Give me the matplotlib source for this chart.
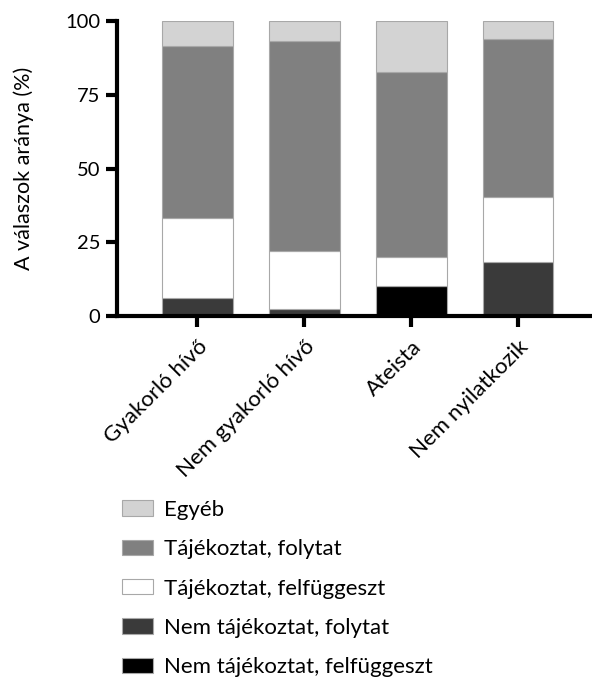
import numpy as np
import matplotlib.pyplot as plt
from matplotlib.patches import Patch

plt.rcParams['font.family'] = ['Lato', 'DejaVu Sans']

# Adatok (%)
csoportok = ['Gyakorló hívő', 'Nem gyakorló hívő', 'Ateista', 'Nem nyilatkozik']
nem_taj_felf = [0.0, 0.0, 10.2, 0.0]
nem_taj_foly = [6.0, 2.5, 0.0, 18.4]
taj_felf = [27.1, 19.5, 9.9, 21.8]
taj_foly = [58.3, 71.1, 62.6, 53.6]
egyeb = [8.6, 6.9, 17.3, 6.2]

sorozatok = [
    ('Nem tájékoztat, felfüggeszt', nem_taj_felf, '#000000'),
    ('Nem tájékoztat, folytat', nem_taj_foly, '#3a3a3a'),
    ('Tájékoztat, felfüggeszt', taj_felf, '#ffffff'),
    ('Tájékoztat, folytat', taj_foly, '#808080'),
    ('Egyéb', egyeb, '#d3d3d3'),
]

fig = plt.figure(figsize=(5.92, 6.79), dpi=100)
ax = fig.add_axes([117 / 592, 1 - 316 / 679, 1 - 117 / 592, 295 / 679])

x = np.arange(len(csoportok))
alap = np.zeros(len(csoportok))
for nev, ertek, szin in sorozatok:
    ax.bar(x, ertek, bottom=alap, width=0.66, color=szin,
           edgecolor='#a8a8a8', linewidth=0.8, zorder=2)
    alap += np.array(ertek)

ax.set_xlim(-0.75, 3.69)
ax.set_ylim(0, 100)
ax.set_yticks([0, 25, 50, 75, 100])
ax.set_xticks(x)
ax.set_xticklabels(csoportok, rotation=45, ha='right', rotation_mode='anchor',
                   fontsize=16)
ax.tick_params(axis='both', width=3, length=8)
ax.tick_params(axis='x', pad=7)
ax.tick_params(axis='y', pad=4, labelsize=14.5)

for s in ['top', 'right']:
    ax.spines[s].set_visible(False)
for s in ['left', 'bottom']:
    ax.spines[s].set_linewidth(3)
    ax.spines[s].set_zorder(3)

ax.set_ylabel('A válaszok aránya (%)', fontsize=15.5)
ax.yaxis.set_label_coords(-0.175, 0.5)

kezek = [Patch(facecolor=szin, edgecolor='#a8a8a8', linewidth=0.8, label=nev)
         for nev, ertek, szin in reversed(sorozatok)]
fig.legend(handles=kezek, loc='upper left', bbox_to_anchor=(113 / 592, 1 - 491 / 679),
           frameon=False, fontsize=16, labelspacing=0.87, handlelength=1.4,
           handleheight=0.68, handletextpad=0.5, borderaxespad=0)

fig.savefig('out.png', dpi=100)
